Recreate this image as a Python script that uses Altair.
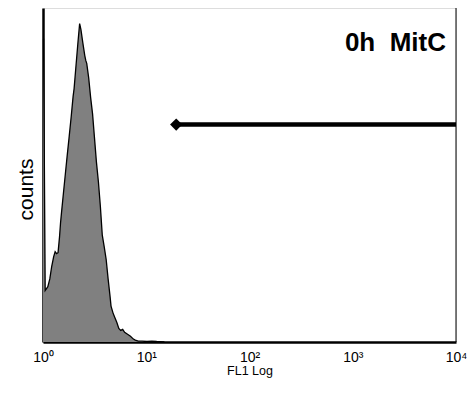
import altair as alt
import pandas as pd

# FL1 intensity (log scale) and counts for the histogram outline
fl1 = [1.0, 1.012, 1.05, 1.114, 1.164, 1.215, 1.269, 1.311, 1.354, 1.399,
       1.445, 1.477, 1.510, 1.576, 1.646, 1.719, 1.795, 1.875, 1.957, 2.001,
       2.089, 2.182, 2.264, 2.328, 2.431, 2.539, 2.595, 2.652, 2.770, 2.892,
       3.020, 3.154, 3.294, 3.440, 3.592, 3.751, 3.917, 4.091, 4.272, 4.461,
       4.559, 4.761, 4.971, 5.192, 5.422, 5.662, 5.913, 6.175, 6.590, 7.034,
       7.506, 7.839, 8.364, 9.120, 10.16, 11.33, 12.62, 15.0]
counts = [312, 312, 53, 57, 65, 78, 88, 93, 91, 92,
          108, 122, 133, 153, 173, 193, 212, 232, 253, 261,
          285, 309, 328, 322, 308, 295, 290, 287, 272, 252,
          235, 210, 185, 165, 140, 110, 98, 85, 65, 47,
          37, 30, 25, 20, 14, 12, 13, 10, 8, 6,
          3, 2, 1, 1, 0.5, 1, 0.5, 0]

# gate marker
gate_start = [19.5]
gate_end = [10000]
gate_level = [224]

# annotation
label_text = ["0h\u00a0\u00a0MitC"]
label_x = [8000]
label_y = [300]

tick_values = [1, 10, 100, 1000, 10000]

FONT = "Liberation Sans"

hist = pd.DataFrame({"fl1": fl1, "counts": counts})
gate = pd.DataFrame({"x": gate_start, "x2": gate_end, "y": gate_level})
ann = pd.DataFrame({"x": label_x, "y": label_y, "t": label_text})

xscale = alt.Scale(type="log", domain=[1, 10000], nice=False)
yscale = alt.Scale(domain=[0, 344], nice=False, zero=True)

NB = "\u00a0"
xaxis = alt.Axis(
    values=tick_values,
    labelExpr=("datum.value == 1 ? '10\u2070" + NB + "' : datum.value == 10 ? '10\u00b9" + NB +
               "' : datum.value == 100 ? '10\u00b2" + NB + "' : datum.value == 1000 ? '10\u00b3" + NB +
               "' : '10\u2074" + NB + "'"),
    title="FL1 Log", titleFont=FONT, titleFontSize=12.5, titleFontWeight="normal",
    titleColor="black", titleY=32, titleBaseline="alphabetic",
    labelFont=FONT, labelFontSize=14, labelColor="black",
    labelBaseline="alphabetic", labelPadding=19,
    labelAlign="center", labelFlush=False, labelOverlap=False,
    ticks=False, tickSize=0, grid=False,
    domainColor="black", domainWidth=2.5,
)
yaxis = alt.Axis(
    title="counts", titleFont=FONT, titleFontSize=21, titleFontWeight="normal",
    titleColor="black", titleAngle=270, titleX=-11, titleY=181,
    titleAlign="center", titleBaseline="alphabetic",
    labels=False, ticks=False, tickSize=0, grid=False,
    domainColor="black", domainWidth=2.5,
)

area = alt.Chart(hist).mark_area(
    color="#808080", interpolate="linear", opacity=1,
    line={"color": "black", "strokeWidth": 1.3},
).encode(
    x=alt.X("fl1:Q", scale=xscale, axis=xaxis),
    y=alt.Y("counts:Q", scale=yscale, axis=yaxis),
)

gate_line = alt.Chart(gate).mark_rule(color="black", strokeWidth=4.5).encode(
    x="x:Q", x2="x2:Q", y="y:Q",
)
gate_point = alt.Chart(gate).mark_point(
    shape="diamond", filled=True, color="black", size=150, opacity=1,
).encode(x="x:Q", y="y:Q")

right_border = alt.Chart(gate).mark_rule(color="black", strokeWidth=1).encode(
    x="x2:Q",
)

text = alt.Chart(ann).mark_text(
    font=FONT, fontSize=26, fontWeight="bold", align="right",
    baseline="alphabetic", color="black",
).encode(x="x:Q", y="y:Q", text="t:N")

chart = alt.layer(area, right_border, gate_line, gate_point, text).properties(
    width=413, height=334,
    autosize=alt.AutoSizeParams(type="none"),
    padding={"left": 35, "top": 0, "right": 11, "bottom": 36},
).configure_view(
    stroke="#888888", strokeWidth=1,
).configure(background="white")

chart.save("out.html", embed_options={"renderer": "svg", "actions": False})
